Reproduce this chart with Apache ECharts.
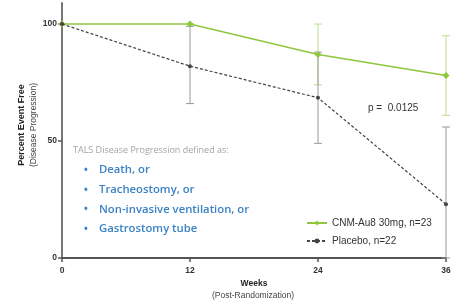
<!DOCTYPE html>
<html>
<head>
<meta charset="utf-8">
<script src="https://cdn.jsdelivr.net/npm/echarts@6/dist/echarts.min.js"></script>
<style>
  html, body { margin: 0; padding: 0; background: #fff; }
  #chart { width: 459px; height: 308px; }
</style>
</head>
<body>
<div id="chart"></div>
<script>
// datos
var semanas = [0, 12, 24, 36]
var etiquetasY = [0, 50, 100]
var cnmValores = [100, 100, 87, 78]
var cnmInferior = [100, 100, 74, 61]
var cnmSuperior = [100, 100, 100, 95]
var placeboValores = [100, 82, 68.5, 23]
var placeboInferior = [100, 66, 49, 0]
var placeboSuperior = [100, 99, 88, 56]
var nombres = ['CNM-Au8 30mg, n=23', 'Placebo, n=22']
var notaTitulo = 'TALS Disease Progression defined as:'
var notaPuntos = ['Death, or', 'Tracheostomy, or', 'Non-invasive ventilation, or', 'Gastrostomy tube']

var verde = '#8fc640'
var gris = '#444'

function barrasError(inferior, superior, color) {
    return {
        type: 'custom',
        silent: true,
        z: 1,
        data: semanas.map(function (s, i) { return [s, inferior[i], superior[i]] }),
        renderItem: function (params, api) {
            var arriba = api.coord([api.value(0), api.value(2)])
            var abajo = api.coord([api.value(0), api.value(1)])
            var w = 4
            var estilo = { stroke: color, lineWidth: 1 }
            return {
                type: 'group',
                children: [
                    { type: 'line', shape: { x1: arriba[0], y1: arriba[1], x2: abajo[0], y2: abajo[1] }, style: estilo },
                    { type: 'line', shape: { x1: arriba[0] - w, y1: arriba[1], x2: arriba[0] + w, y2: arriba[1] }, style: estilo },
                    { type: 'line', shape: { x1: abajo[0] - w, y1: abajo[1], x2: abajo[0] + w, y2: abajo[1] }, style: estilo }
                ]
            }
        }
    }
}

var myChart = echarts.init(document.getElementById('chart'), null, { renderer: 'canvas' })

var textos = [
    { type: 'text', x: 73, y: 150, style: { text: notaTitulo, fill: '#a3a3a3', font: '9px "Open Sans", sans-serif', verticalAlign: 'middle' } }
]
notaPuntos.forEach(function (t, i) {
    var y = 170 + i * 19.7
    textos.push({ type: 'text', x: 84, y: y, style: { text: '•', fill: '#3b82c4', font: 'bold 10px "Open Sans", sans-serif', verticalAlign: 'middle' } })
    textos.push({ type: 'text', x: 99, y: y, style: { text: t, fill: '#3b82c4', font: '600 11.3px "Open Sans", sans-serif', verticalAlign: 'middle' } })
})
textos.push({ type: 'text', x: 368, y: 108, style: { text: 'p =  0.0125', fill: '#333', font: '10px "Liberation Sans", sans-serif', verticalAlign: 'middle' } })
textos.push({ type: 'text', x: 254, y: 284, style: { text: 'Weeks', fill: '#222', font: 'bold 8.5px "Liberation Sans", sans-serif', align: 'center', verticalAlign: 'middle' } })
textos.push({ type: 'text', x: 253, y: 296, style: { text: '(Post-Randomization)', fill: '#444', font: '8.5px "Liberation Sans", sans-serif', align: 'center', verticalAlign: 'middle' } })
textos.push({
    type: 'group', x: 17, y: 125, rotation: Math.PI / 2,
    children: [
        { type: 'text', x: 0, y: 0, style: { text: 'Percent Event Free', fill: '#222', font: 'bold 9px "Liberation Sans", sans-serif', align: 'center', verticalAlign: 'top' } },
        { type: 'text', x: 0, y: 12, style: { text: '(Disease Progression)', fill: '#444', font: '8.5px "Liberation Sans", sans-serif', align: 'center', verticalAlign: 'top' } }
    ]
})

var option = {
    animation: false,
    grid: { left: 62, right: 13, top: 3, bottom: 50 },
    legend: {
        orient: 'vertical',
        left: 301,
        top: 213,
        itemWidth: 20,
        itemHeight: 6,
        itemGap: 8,
        textStyle: { fontSize: 10, color: '#333', fontFamily: 'Liberation Sans' },
        data: nombres
    },
    xAxis: {
        type: 'value',
        min: 0,
        max: 36,
        interval: 12,
        axisLine: { onZero: false, lineStyle: { color: '#555', width: 2 } },
        axisTick: { show: true, length: 4, lineStyle: { color: '#555', width: 1.5 } },
        axisLabel: { color: '#333', fontSize: 8.5, fontWeight: 'bold', margin: 8 },
        splitLine: { show: false }
    },
    yAxis: {
        type: 'value',
        min: 0,
        max: 109,
        axisLine: { show: true, lineStyle: { color: '#777', width: 2 } },
        axisTick: { show: true, length: 4, customValues: etiquetasY, lineStyle: { color: '#555', width: 1.5 } },
        axisLabel: { color: '#333', fontSize: 8.5, fontWeight: 'bold', margin: 5, customValues: etiquetasY },
        splitLine: { show: false }
    },
    series: [
        barrasError(cnmInferior, cnmSuperior, '#bcdc8e'),
        barrasError(placeboInferior, placeboSuperior, '#999'),
        {
            name: nombres[0],
            type: 'line',
            z: 3,
            data: semanas.map(function (s, i) { return [s, cnmValores[i]] }),
            symbol: 'diamond',
            symbolSize: 7,
            itemStyle: { color: verde },
            lineStyle: { color: verde, width: 1.5 }
        },
        {
            name: nombres[1],
            type: 'line',
            z: 4,
            data: semanas.map(function (s, i) { return [s, placeboValores[i]] }),
            symbol: 'circle',
            symbolSize: 4,
            itemStyle: { color: gris },
            lineStyle: { color: gris, width: 1.2, type: [3, 2] }
        }
    ],
    graphic: textos
}

myChart.setOption(option)
window.addEventListener('resize', myChart.resize)
</script>
</body>
</html>
